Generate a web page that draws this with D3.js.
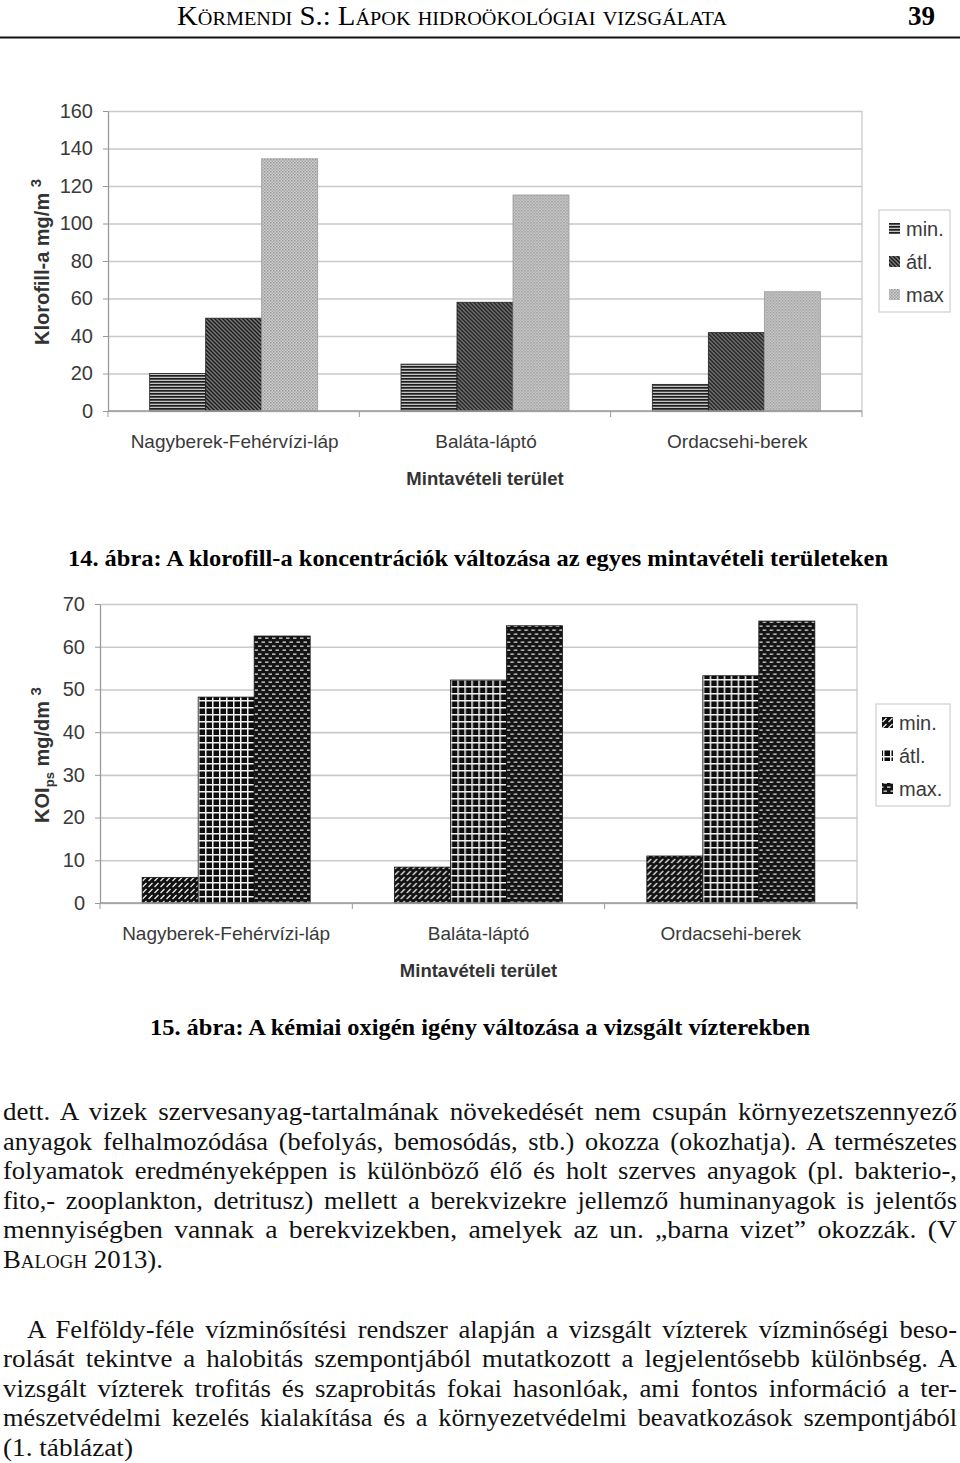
<!DOCTYPE html>
<html>
<head>
<meta charset="utf-8">
<script src="https://cdn.jsdelivr.net/npm/d3@7"></script>
<style>
  body { margin: 0; background: #fff; }
  svg { display: block; }
</style>
</head>
<body>
<svg id="page" width="960" height="1463"></svg>
<script>
// data
const categories = ["Nagyberek-Fehérvízi-láp", "Baláta-láptó", "Ordacsehi-berek"];
const klorofillSeries = ["min.", "átl.", "max"];
const klorofillMin = [20, 25, 14.2];
const klorofillAtl = [49.5, 58, 41.8];
const klorofillMax = [134.5, 115.2, 63.6];
const klorofillTicks = [0, 20, 40, 60, 80, 100, 120, 140, 160];

const koiSeries = ["min.", "átl.", "max."];
const koiMin = [6, 8.4, 11];
const koiAtl = [48.2, 52.2, 53.2];
const koiMax = [62.5, 64.9, 66];
const koiTicks = [0, 10, 20, 30, 40, 50, 60, 70];

const sans = "'Liberation Sans', Arial, sans-serif";
const serif = "'Liberation Serif', 'Times New Roman', serif";

let svg = d3.select("#page");
svg.append("rect").attr("width", 960).attr("height", 1463).attr("fill", "#fff");

// ---- patterns
let defs = svg.append("defs");
function pattern(id, w, h, build) {
    let p = defs.append("pattern").attr("id", id)
        .attr("patternUnits", "userSpaceOnUse").attr("width", w).attr("height", h);
    build(p);
}
pattern("k-min", 4, 3, p => {
    p.append("rect").attr("width", 4).attr("height", 3).attr("fill", "#c4c4c4");
    p.append("rect").attr("width", 4).attr("height", 1.7).attr("fill", "#1e1e1e");
});
pattern("k-atl", 4, 4, p => {
    p.append("rect").attr("width", 4).attr("height", 4).attr("fill", "#7a7a7a");
    p.append("path").attr("d", "M-1,-1L5,5M-1,3L1,5M3,-1L5,1").attr("stroke", "#1a1a1a").attr("stroke-width", 1.4);
});
pattern("k-max", 3, 3, p => {
    p.append("rect").attr("width", 3).attr("height", 3).attr("fill", "#cfcfcf");
    p.append("rect").attr("width", 1.5).attr("height", 1.5).attr("fill", "#989898");
    p.append("rect").attr("x", 1.5).attr("y", 1.5).attr("width", 1.5).attr("height", 1.5).attr("fill", "#a8a8a8");
});
pattern("o-min", 6, 6, p => {
    p.append("rect").attr("width", 6).attr("height", 6).attr("fill", "#111");
    p.append("path").attr("d", "M0.5,5L4.5,1").attr("stroke", "#eee").attr("stroke-width", 1.3);
});
pattern("o-atl", 7, 7, p => {
    p.append("rect").attr("width", 7).attr("height", 7).attr("fill", "#0d0d0d");
    p.append("rect").attr("width", 7).attr("height", 1.5).attr("fill", "#f2f2f2");
    p.append("rect").attr("width", 1.5).attr("height", 7).attr("fill", "#f2f2f2");
});
pattern("o-max", 7, 8, p => {
    p.append("rect").attr("width", 7).attr("height", 8).attr("fill", "#141414");
    p.append("rect").attr("x", 0.5).attr("y", 1.5).attr("width", 3.5).attr("height", 1.3).attr("fill", "#ddd");
    p.append("rect").attr("x", 4).attr("y", 5.5).attr("width", 3.5).attr("height", 1.3).attr("fill", "#ddd");
    p.append("rect").attr("x", -3).attr("y", 5.5).attr("width", 3.5).attr("height", 1.3).attr("fill", "#ddd");
});

// ---- header
svg.append("text")
    .attr("x", 177).attr("y", 25)
    .attr("font-family", serif).attr("font-size", 27)
    .style("font-variant", "small-caps")
    .attr("textLength", 550).attr("lengthAdjust", "spacingAndGlyphs")
    .text("Körmendi S.: Lápok hidroökológiai vizsgálata");
svg.append("text")
    .attr("x", 935).attr("y", 25).attr("text-anchor", "end")
    .attr("font-family", serif).attr("font-size", 27).attr("font-weight", "bold")
    .text("39");
svg.append("line").attr("x1", 0).attr("x2", 960).attr("y1", 37.5).attr("y2", 37.5)
    .attr("stroke", "#111").attr("stroke-width", 2);

// ---- grouped bar chart
function drawChart(cfg) {
    let g = svg.append("g");
    let rows = categories.map((c, i) => ({cat: c, vals: cfg.values.map(v => v[i])}));

    let x = d3.scaleBand().domain(categories).range([cfg.left, cfg.right]);
    let xs = d3.scaleBand().domain(cfg.series).range([0, x.bandwidth()])
        .paddingInner(0).paddingOuter(cfg.outer);
    let y = d3.scaleLinear().domain([0, cfg.max]).range([cfg.bottom, cfg.top]);

    // gridlines
    g.append("g")
        .attr("transform", `translate(${cfg.left},0)`)
        .call(d3.axisLeft(y).tickValues(cfg.ticks).tickSize(-(cfg.right - cfg.left)).tickSizeOuter(0).tickFormat(""))
        .call(a => a.select(".domain").remove())
        .call(a => a.selectAll(".tick line").attr("stroke", "#c9c9c9").attr("stroke-width", 1.6));

    // left axis with labels
    g.append("g")
        .attr("transform", `translate(${cfg.left},0)`)
        .call(d3.axisLeft(y).tickValues(cfg.ticks).tickSize(5).tickSizeOuter(0).tickPadding(10))
        .call(a => a.select(".domain").attr("stroke", "#9a9a9a").attr("stroke-width", 1.3))
        .call(a => a.selectAll(".tick line").attr("stroke", "#9a9a9a"))
        .call(a => a.selectAll(".tick text").attr("font-family", sans).attr("font-size", 20).attr("fill", "#3a3a3a"));

    // right border
    g.append("line").attr("x1", cfg.right).attr("x2", cfg.right)
        .attr("y1", cfg.top).attr("y2", cfg.bottom)
        .attr("stroke", "#c9c9c9").attr("stroke-width", 1.3);

    // bars
    let grp = g.selectAll(".grp").data(rows).join("g")
        .attr("transform", d => `translate(${x(d.cat)},0)`);
    grp.selectAll("rect").data(d => d.vals.map((v, k) => ({s: cfg.series[k], k: k, v: v}))).join("rect")
        .attr("x", d => xs(d.s))
        .attr("y", d => y(d.v))
        .attr("width", xs.bandwidth())
        .attr("height", d => y(0) - y(d.v))
        .attr("fill", d => `url(#${cfg.fills[d.k]})`)
        .attr("stroke", d => cfg.strokes[d.k])
        .attr("stroke-width", 0.8);

    // bottom axis with category boundary ticks
    let bx = g.append("g").attr("transform", `translate(0,${cfg.bottom})`);
    bx.append("line").attr("x1", cfg.left).attr("x2", cfg.right)
        .attr("stroke", "#9a9a9a").attr("stroke-width", 1.3);
    bx.selectAll(".sep").data(categories.concat(["end"])).join("line")
        .attr("x1", (d, i) => cfg.left + i * x.bandwidth())
        .attr("x2", (d, i) => cfg.left + i * x.bandwidth())
        .attr("y1", 0).attr("y2", 6)
        .attr("stroke", "#9a9a9a");
    bx.selectAll(".lab").data(categories).join("text")
        .attr("x", d => x(d) + x.bandwidth() / 2 + cfg.labShift)
        .attr("y", 37)
        .attr("text-anchor", "middle")
        .attr("font-family", sans).attr("font-size", 19).attr("fill", "#3a3a3a")
        .text(d => d);
    bx.append("text")
        .attr("x", (cfg.left + cfg.right) / 2).attr("y", 74)
        .attr("text-anchor", "middle")
        .attr("font-family", sans).attr("font-size", 18.5).attr("font-weight", "bold").attr("fill", "#333")
        .text("Mintavételi terület");

    // y title
    let yt = g.append("text")
        .attr("transform", `translate(${cfg.titleX},${cfg.titleY}) rotate(-90)`)
        .attr("text-anchor", "middle")
        .attr("font-family", sans).attr("font-size", 20).attr("font-weight", "bold").attr("fill", "#333");
    cfg.title(yt);

    // legend
    let lg = g.append("g").attr("transform", `translate(${cfg.legend.x},${cfg.legend.y})`);
    lg.append("rect").attr("width", cfg.legend.w).attr("height", cfg.legend.h)
        .attr("fill", "#fff").attr("stroke", "#cfcfcf").attr("stroke-width", 1.2);
    let items = lg.selectAll(".it").data(cfg.series).join("g")
        .attr("transform", (d, i) => `translate(0,${19 + i * 33})`);
    items.append("rect")
        .attr("x", cfg.legend.sx).attr("y", -6).attr("width", 11).attr("height", 11)
        .attr("fill", (d, i) => `url(#${cfg.fills[i]})`);
    items.append("text")
        .attr("x", cfg.legend.sx + 17).attr("y", 7)
        .attr("font-family", sans).attr("font-size", 20).attr("fill", "#3a3a3a")
        .text(d => d);
}

drawChart({
    series: klorofillSeries,
    values: [klorofillMin, klorofillAtl, klorofillMax],
    ticks: klorofillTicks, max: 160,
    left: 108, right: 862, top: 111, bottom: 411, outer: 0.744, labShift: 1,
    fills: ["k-min", "k-atl", "k-max"],
    strokes: ["#222", "#222", "#9a9a9a"],
    titleX: 49, titleY: 262,
    title: t => {
        t.append("tspan").text("Klorofill-a mg/m ");
        t.append("tspan").attr("dy", -8).attr("font-size", 15).text("3");
    },
    legend: {x: 879, y: 210, w: 71, h: 102, sx: 10}
});

drawChart({
    series: koiSeries,
    values: [koiMin, koiAtl, koiMax],
    ticks: koiTicks, max: 70,
    left: 100, right: 857, top: 604, bottom: 903, outer: 0.753, labShift: 0,
    fills: ["o-min", "o-atl", "o-max"],
    strokes: ["#111", "#111", "#111"],
    titleX: 49, titleY: 755,
    title: t => {
        t.append("tspan").text("KOI");
        t.append("tspan").attr("dy", 5).attr("font-size", 13).text("ps");
        t.append("tspan").attr("dy", -5).text("  mg/dm ");
        t.append("tspan").attr("dy", -8).attr("font-size", 15).text("3");
    },
    legend: {x: 876, y: 704, w: 74, h: 102, sx: 6}
});

// ---- captions
svg.append("text")
    .attr("x", 68).attr("y", 566)
    .attr("font-family", serif).attr("font-size", 24).attr("font-weight", "bold")
    .attr("textLength", 820).attr("lengthAdjust", "spacingAndGlyphs")
    .text("14. ábra: A klorofill-a koncentrációk változása az egyes mintavételi területeken");
svg.append("text")
    .attr("x", 150).attr("y", 1035)
    .attr("font-family", serif).attr("font-size", 24).attr("font-weight", "bold")
    .attr("textLength", 660).attr("lengthAdjust", "spacingAndGlyphs")
    .text("15. ábra: A kémiai oxigén igény változása a vizsgált vízterekben");

// ---- body text, each full line fitted to the column width
const bodyLines = [
    {x: 3, y: 1120, w: 954, t: "dett. A vizek szervesanyag-tartalmának növekedését nem csupán környezetszennyező"},
    {x: 3, y: 1150, w: 954, t: "anyagok felhalmozódása (befolyás, bemosódás, stb.) okozza (okozhatja). A természetes"},
    {x: 3, y: 1179, w: 954, t: "folyamatok eredményeképpen is különböző élő és holt szerves anyagok (pl. bakterio-,"},
    {x: 3, y: 1209, w: 954, t: "fito,- zooplankton, detritusz) mellett a berekvizekre jellemző huminanyagok is jelentős"},
    {x: 3, y: 1238, w: 954, t: "mennyiségben vannak a berekvizekben, amelyek az un. „barna vizet” okozzák. (V"},
    {x: 27, y: 1338, w: 930, t: "A Felföldy-féle vízminősítési rendszer alapján a vizsgált vízterek vízminőségi beso-"},
    {x: 3, y: 1367, w: 954, t: "rolását tekintve a halobitás szempontjából mutatkozott a legjelentősebb különbség. A"},
    {x: 3, y: 1397, w: 954, t: "vizsgált vízterek trofitás és szaprobitás fokai hasonlóak, ami fontos információ a ter-"},
    {x: 3, y: 1426, w: 954, t: "mészetvédelmi kezelés kialakítása és a környezetvédelmi beavatkozások szempontjából"}
];
const bodySize = 25.5;
svg.append("g").selectAll("text").data(bodyLines).join("text")
    .attr("x", d => d.x).attr("y", d => d.y)
    .attr("font-family", serif).attr("font-size", bodySize).attr("fill", "#111")
    .text(d => d.t)
    .each(function(d) {
        // a little extra word spacing first, then squeeze/stretch the rest
        let natural = this.getComputedTextLength();
        let gaps = d.t.split(" ").length - 1;
        let extra = Math.max(0, Math.min(4, (d.w - natural) / gaps));
        d3.select(this).attr("word-spacing", extra)
            .attr("textLength", d.w).attr("lengthAdjust", "spacingAndGlyphs");
    });

let bal = svg.append("text").attr("x", 3).attr("y", 1268)
    .attr("font-family", serif).attr("font-size", bodySize).attr("fill", "#111")
    .attr("textLength", 160).attr("lengthAdjust", "spacingAndGlyphs");
bal.append("tspan").style("font-variant", "small-caps").text("Balogh");
bal.append("tspan").text(" 2013).");
svg.append("text").attr("x", 3).attr("y", 1456)
    .attr("font-family", serif).attr("font-size", bodySize).attr("fill", "#111")
    .attr("textLength", 130).attr("lengthAdjust", "spacingAndGlyphs")
    .text("(1. táblázat)");
</script>
</body>
</html>
